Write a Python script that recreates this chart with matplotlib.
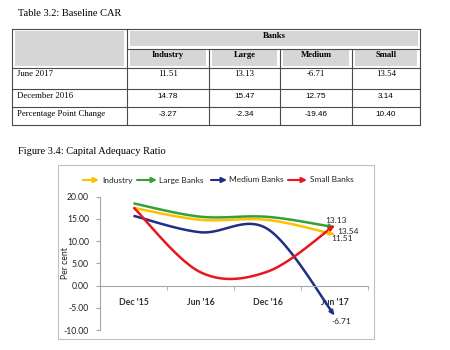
import numpy as np
import matplotlib.pyplot as plt
from matplotlib.patches import Rectangle

# table data
table_cols = ["Industry", "Large", "Medium", "Small"]
row_names = ["June 2017", "December 2016", "Percentage Point Change"]
jun_2017 = ["11.51", "13.13", "-6.71", "13.54"]
dec_2016 = ["14.78", "15.47", "12.75", "3.14"]
pp_change = ["-3.27", "-2.34", "-19.46", "10.40"]

# chart data
periods = ["Dec '15", "Jun '16", "Dec '16", "Jun '17"]
industry = [17.5, 14.8, 14.78, 11.51]
large = [18.5, 15.5, 15.47, 13.13]
medium = [15.7, 12.0, 12.75, -6.71]
small = [17.6, 3.0, 3.14, 13.54]

series = [("Industry", industry, "#ffc000"),
          ("Large Banks", large, "#35a037"),
          ("Medium Banks", medium, "#1f2f86"),
          ("Small Banks", small, "#e8171b")]

SERIF = "Liberation Serif"
SANS = "Lato"


def smooth(xs, ys, n=40):
    # excel style smoothed line (bezier through points)
    p = np.column_stack([xs, ys]).astype(float)
    p = np.vstack([p[0], p, p[-1]])
    out = []
    for i in range(1, len(p) - 2):
        p0, p1, p2, p3 = p[i - 1], p[i], p[i + 1], p[i + 2]
        c1 = p1 + (p2 - p0) / 6
        c2 = p2 - (p3 - p1) / 6
        t = np.linspace(0, 1, n)[:, None]
        seg = ((1 - t) ** 3) * p1 + 3 * ((1 - t) ** 2) * t * c1 + 3 * (1 - t) * t ** 2 * c2 + t ** 3 * p2
        out.append(seg if i == 1 else seg[1:])
    out = np.vstack(out)
    return out[:, 0], out[:, 1]


fig = plt.figure(figsize=(4.5, 3.5), dpi=100)

# overlay in pixel coordinates
ov = fig.add_axes([0, 0, 1, 1])
ov.set_xlim(0, 450)
ov.set_ylim(350, 0)
ov.axis("off")

ov.text(18, 14, "Table 3.2: Baseline CAR", family=SERIF, fontsize=7.5, va="center")

# table shading
gray = "#d6d6d6"
ov.add_patch(Rectangle((15, 31), 109, 35, color=gray, lw=0))
ov.add_patch(Rectangle((130, 31), 288, 15, color=gray, lw=0))
col_x = [127, 209, 280, 352, 420]
for i in range(4):
    ov.add_patch(Rectangle((col_x[i] + 3, 50), col_x[i + 1] - col_x[i] - 6, 16, color=gray, lw=0))

lc = "#4a4a4a"
for y in [29, 68, 89, 107, 125]:
    ov.plot([12, 420], [y, y], color=lc, lw=0.8)
ov.plot([127, 420], [49, 49], color=lc, lw=0.8)
ov.plot([12, 12], [29, 125], color=lc, lw=0.8)
ov.plot([420, 420], [29, 125], color=lc, lw=0.8)
ov.plot([127, 127], [29, 125], color=lc, lw=0.8)
for x in col_x[1:4]:
    ov.plot([x, x], [49, 125], color=lc, lw=0.8)

ov.text(274, 36, "Banks", family=SERIF, fontsize=6.2, fontweight="bold", ha="center", va="center")
for i, c in enumerate(table_cols):
    cx = (col_x[i] + col_x[i + 1]) / 2
    ov.text(cx, 55, c, family=SERIF, fontsize=6.2, fontweight="bold", ha="center", va="center")
    ov.text(cx, 74, jun_2017[i], family=SERIF, fontsize=6.3, ha="center", va="center")
    ov.text(cx, 96, dec_2016[i], family="Liberation Sans", fontsize=5.9, ha="center", va="center")
    ov.text(cx, 114, pp_change[i], family="Liberation Sans", fontsize=5.9, ha="center", va="center")
for name, y in zip(row_names, [74, 96, 114]):
    ov.text(17, y, name, family=SERIF, fontsize=6.3, va="center")

ov.text(18, 151, "Figure 3.4: Capital Adequacy Ratio", family=SERIF, fontsize=7.5, va="center")

# chart frame
ov.add_patch(Rectangle((58, 165), 316, 174, fill=False, ec="#c0c0c0", lw=0.8))

# legend
leg = [(83, 99, 102), (137, 157, 159), (211, 227, 229), (288, 307, 310)]
for (name, vals, col), (x0, x1, tx) in zip(series, leg):
    ov.annotate("", xy=(x1, 180), xytext=(x0, 180),
                arrowprops=dict(arrowstyle="-|>,head_length=0.3,head_width=0.15", color=col, lw=1.5,
                                shrinkA=0, shrinkB=0))
    ov.text(tx, 180, name, family=SANS, fontsize=6, va="center", color="#222222")

ov.text(66, 263, "Per cent", family=SANS, fontsize=6.2, rotation=90, ha="center", va="center", color="#222222")

# chart axes
ax = fig.add_axes([100 / 450, 20 / 350, 268 / 450, 133.3 / 350])
ax.patch.set_alpha(0)
ax.set_xlim(-0.5, 3.5)
ax.set_ylim(-10, 20)
x = np.arange(len(periods))

for name, vals, col in series:
    sx, sy = smooth(x, vals)
    ax.plot(sx[:-2], sy[:-2], color=col, lw=1.8, solid_capstyle="butt")
    ax.annotate("", xy=(sx[-1], sy[-1]), xytext=(sx[-3], sy[-3]),
                arrowprops=dict(arrowstyle="-|>,head_length=0.28,head_width=0.13", color=col, lw=1.4,
                                shrinkA=0, shrinkB=0))

lab = dict(family=SANS, fontsize=6, color="#222222", textcoords="offset points")
ax.annotate(f"{large[-1]:.2f}", (3, large[-1]), xytext=(-7, 3), **lab)
ax.annotate(f"{small[-1]:.2f}", (3, small[-1]), xytext=(2, -6), **lab)
ax.annotate(f"{industry[-1]:.2f}", (3, industry[-1]), xytext=(-2, -5), **lab)
ax.annotate(f"{medium[-1]:.2f}", (3, medium[-1]), xytext=(-2, -6), **lab)

for s in ["top", "right"]:
    ax.spines[s].set_visible(False)
ax.spines["left"].set_color("#a6a6a6")
ax.spines["bottom"].set_color("#a6a6a6")
ax.spines["bottom"].set_position(("data", 0))
ax.set_yticks(np.arange(-10, 21, 5))
ax.set_yticklabels([f"{v:.2f}" for v in np.arange(-10, 21, 5)], family=SANS, fontsize=6.2, color="#222222")
ax.tick_params(axis="y", length=3, color="#a6a6a6", pad=5)
ax.set_xticks(x)
ax.set_xticklabels(periods, family=SANS, fontsize=6.3, fontweight="bold", color="#333333")
ax.set_xticks(np.arange(-0.5, 3.6, 1), minor=True)
ax.tick_params(axis="x", which="major", length=0, pad=9)
ax.tick_params(axis="x", which="minor", length=3, color="#a6a6a6")

fig.savefig("out.png", dpi=100)
